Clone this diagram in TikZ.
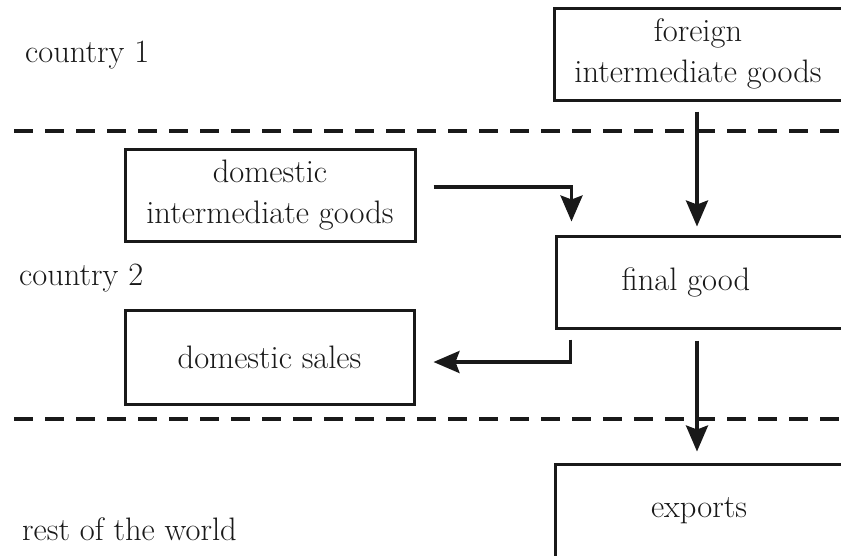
\documentclass[tikz,border=0pt]{standalone}
\usetikzlibrary{arrows.meta,calc}
\begin{document}
\begin{tikzpicture}[x=1pt,y=-1pt,
  txt/.style={font=\fontsize{32.5}{41}\selectfont, text=black!90, inner sep=0pt},
  box/.style={txt, draw=black!90, line width=3pt, align=center, minimum width=288pt, minimum height=92pt},
  divider/.style={draw=black!90, line width=4pt, dash pattern=on 19pt off 12pt},
  arr/.style={draw=black!90, line width=3.5pt, -{Stealth[length=26pt,width=22pt,inset=4pt]}}]
\useasboundingbox (0,0) rectangle (841,555);
\clip (0,0) rectangle (841,555);
% dividers
\draw[divider] (14,131) -- (841,131);
\draw[divider] (14,419) -- (841,419);
% region labels
\node[txt, anchor=base west] (c1) at (25,62) {country 1};
\node[txt, anchor=base west] (c2) at (19,285) {country 2};
\node[txt, anchor=base west] (rw) at (22,540) {rest of the world};
% boxes
\node[box] (foreign) at (698,54) {foreign\\intermediate goods};
\node[box, minimum width=290pt] (dig) at (270,195) {domestic\\intermediate goods};
\node[box, minimum width=289pt, minimum height=94pt] (ds) at (269.5,357) {domestic sales};
\node[box, minimum height=92pt] (final) at (700,282) {\hspace*{-28pt}final good};
\node[box, minimum height=94pt] (exp) at (699,511) {exports};
% connectors
\coordinate (ax) at (697,0);
\draw[arr] ($(ax |- foreign.south)+(0,10)$) -- ($(ax |- final.north)+(0,-8)$);
\draw[arr] ($(dig.east)+(17,-8)$) -| ($(final.north west)+(17,-13)$);
\draw[arr] ($(final.south west)+(16,10)$) |- ($(ds.east)+(18,5)$);
\draw[arr] ($(ax |- final.south)+(0,11)$) -- ($(ax |- exp.north)+(0,-11)$);
\end{tikzpicture}
\end{document}
